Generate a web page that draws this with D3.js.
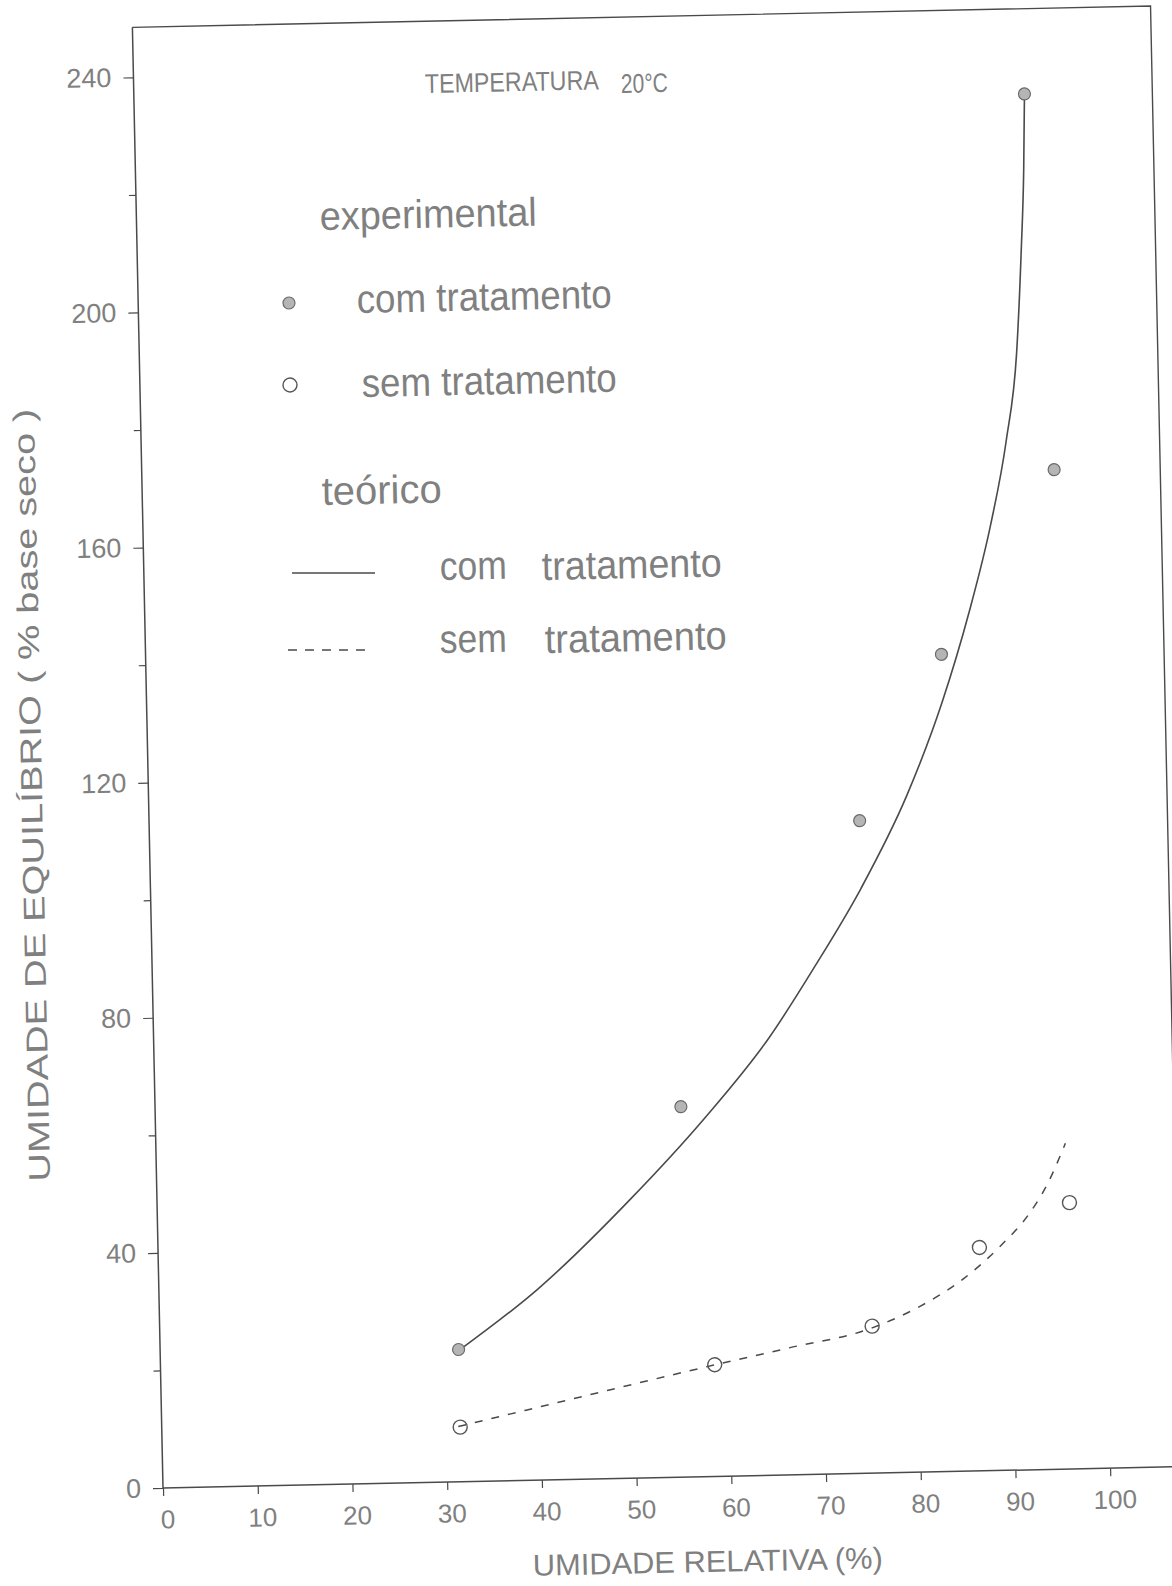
<!DOCTYPE html>
<html>
<head>
<meta charset="utf-8">
<script src="https://cdn.jsdelivr.net/npm/d3@7"></script>
<style>
  html, body { margin: 0; padding: 0; background: #fff; }
  svg { display: block; }
  text { font-family: "Liberation Sans", Arial, sans-serif; fill: #808080; }
</style>
</head>
<body>
<svg id="chart" width="1172" height="1586"></svg>
<script>
// ---------------- data ----------------
const xTicks = [0, 10, 20, 30, 40, 50, 60, 70, 80, 90, 100];
const yTicks = [0, 40, 80, 120, 160, 200, 240];
const yMinorTicks = [20, 60, 100, 140, 180, 220];

// experimental points (umidade relativa %, umidade de equilíbrio % base seca)
const comRH  = [31.5, 55.5, 75.0, 84.0, 96.3, 94.0];
const comEq  = [22.5, 63.0, 111.0, 139.0, 170.0, 234.0];
const semRH  = [31.5, 58.5, 75.2, 86.7, 96.3];
const semEq  = [9.3, 19.0, 25.0, 38.0, 45.3];

// theoretical curves
const teoComRH = [31.5, 40, 50, 58, 65, 70, 75, 80, 84, 87, 89.5, 91.3, 92.6, 93.3, 93.75, 94.0];
const teoComEq = [22.3, 32.5, 47.5, 61, 74.5, 86.5, 99.5, 115, 131, 146, 161, 175, 190, 207, 221, 234];
const teoSemRH = [31.3, 39.5, 47.1, 58.3, 66.4, 75.2, 80.3, 85.0, 89.0, 92.0, 94.0, 96.0];
const teoSemEq = [9.4, 12.3, 15.0, 18.9, 21.6, 24.7, 28.2, 32.8, 38.3, 43.5, 48.5, 55.4];

const xTitle = "UMIDADE RELATIVA (%)";
const yTitle = "UMIDADE DE EQUILÍBRIO ( % base seco )";

// ---------------- layout ----------------
const svg = d3.select("#chart");
const ox = 163, oy = 1488;          // axis origin on the page
const ang = -1.2;                   // the scanned sheet is slightly tilted
const rad = -ang * Math.PI / 180;
function loc(sx, sy) {
  const dx = sx - ox, dy = sy - oy;
  const lx = dx * Math.cos(rad) - dy * Math.sin(rad);
  const lu = -dx * Math.sin(rad) - dy * Math.cos(rad);
  return [ox + lx, oy - lu];
}

const x = d3.scaleLinear().domain([0, 100]).range([ox, 1110.3]);
const y = d3.scaleLinear().domain([0, 240]).range([oy, 77]);

const g = svg.append("g").attr("transform", `rotate(${ang},${ox},${oy})`);

const ink = "#4a4a4a";
const xMax = 107.5, yMax = 248.5;

// frame (top and right edges)
g.append("path")
  .attr("d", `M${x(0)},${y(yMax)} L${x(xMax)},${y(yMax)} L${x(xMax)},${y(0)}`)
  .attr("fill", "none").attr("stroke", ink).attr("stroke-width", 1.4);

// x axis
const xAxis = d3.axisBottom(x).tickValues(xTicks).tickSize(8).tickPadding(14)
  .tickFormat(d3.format("d"));
const gx = g.append("g").attr("transform", `translate(0,${oy})`).call(xAxis);
gx.select(".domain").attr("d", `M${x(0)},0H${x(xMax)}`)
  .attr("stroke", ink).attr("stroke-width", 1.5);
gx.selectAll(".tick line").attr("stroke", ink).attr("stroke-width", 1.2);
gx.selectAll(".tick text").attr("font-size", 26).attr("fill", "#808080")
  .attr("font-family", "Liberation Sans, Arial, sans-serif").attr("dx", 4);

// y axis
const yAxis = d3.axisLeft(y).tickValues(yTicks).tickSize(10).tickPadding(12)
  .tickFormat(d3.format("d"));
const gy = g.append("g").attr("transform", `translate(${ox},0)`).call(yAxis);
gy.select(".domain").attr("d", `M0,${y(0)}V${y(yMax)}`)
  .attr("stroke", ink).attr("stroke-width", 1.5);
gy.selectAll(".tick line").attr("stroke", ink).attr("stroke-width", 1.2);
gy.selectAll(".tick text").attr("font-size", 27).attr("fill", "#808080")
  .attr("font-family", "Liberation Sans, Arial, sans-serif");
const yMinor = d3.axisLeft(y).tickValues(yMinorTicks).tickSize(7).tickFormat("");
const gym = g.append("g").attr("transform", `translate(${ox},0)`).call(yMinor);
gym.select(".domain").remove();
gym.selectAll(".tick line").attr("stroke", ink).attr("stroke-width", 1.2);

// theoretical curves
const line = d3.line().x(d => x(d[0])).y(d => y(d[1])).curve(d3.curveMonotoneX);
g.append("path").datum(teoComRH.map((v, i) => [v, teoComEq[i]]))
  .attr("d", line).attr("fill", "none").attr("stroke", ink).attr("stroke-width", 1.6);
g.append("path").datum(teoSemRH.map((v, i) => [v, teoSemEq[i]]))
  .attr("d", line).attr("fill", "none").attr("stroke", ink).attr("stroke-width", 1.5)
  .attr("stroke-dasharray", "8,9");

// experimental points
g.selectAll("circle.com").data(comRH.map((v, i) => [v, comEq[i]])).enter()
  .append("circle").attr("class", "com")
  .attr("cx", d => x(d[0])).attr("cy", d => y(d[1])).attr("r", 6)
  .attr("fill", "#b5b5b5").attr("stroke", "#6a6a6a").attr("stroke-width", 1.2);
g.selectAll("circle.sem").data(semRH.map((v, i) => [v, semEq[i]])).enter()
  .append("circle").attr("class", "sem")
  .attr("cx", d => x(d[0])).attr("cy", d => y(d[1])).attr("r", 7)
  .attr("fill", "none").attr("stroke", "#555").attr("stroke-width", 1.4);

// ---------------- texts ----------------
function txt(sx, sy, s, size, len, anchor) {
  const p = loc(sx, sy);
  const t = g.append("text").attr("x", p[0]).attr("y", p[1]).text(s)
    .attr("font-size", size).attr("text-anchor", anchor || "start");
  if (len) t.attr("textLength", len).attr("lengthAdjust", "spacingAndGlyphs");
  return t;
}

// title
txt(425, 93, "TEMPERATURA", 27, 174);
txt(621, 93, "20°C", 27, 47);

// legend
txt(320, 230, "experimental", 40, 217);
{
  const p = loc(289, 303);
  g.append("circle").attr("cx", p[0]).attr("cy", p[1]).attr("r", 6)
    .attr("fill", "#b5b5b5").attr("stroke", "#6a6a6a").attr("stroke-width", 1.2);
}
txt(357, 313, "com tratamento", 40, 255);
{
  const p = loc(290, 385);
  g.append("circle").attr("cx", p[0]).attr("cy", p[1]).attr("r", 7)
    .attr("fill", "none").attr("stroke", "#555").attr("stroke-width", 1.4);
}
txt(362, 397, "sem tratamento", 40, 255);
txt(322, 505, "teórico", 40, 120);
{
  const a = loc(292, 573), b = loc(375, 573);
  g.append("line").attr("x1", a[0]).attr("y1", a[1]).attr("x2", b[0]).attr("y2", b[1])
    .attr("stroke", ink).attr("stroke-width", 1.6);
  const c = loc(288, 650), d = loc(370, 650);
  g.append("line").attr("x1", c[0]).attr("y1", c[1]).attr("x2", d[0]).attr("y2", d[1])
    .attr("stroke", ink).attr("stroke-width", 1.5).attr("stroke-dasharray", "9,8");
}
txt(440, 580, "com", 40, 67);
txt(542, 580, "tratamento", 40, 180);
txt(440, 653, "sem", 40, 67);
txt(545, 653, "tratamento", 40, 182);

// axis titles
txt(708, 1572, xTitle, 30, 350, "middle");
{
  const p = loc(42, 795);
  g.append("text").attr("transform", `translate(${p[0]},${p[1]}) rotate(-90)`)
    .attr("text-anchor", "middle").attr("font-size", 30)
    .attr("textLength", 773).attr("lengthAdjust", "spacingAndGlyphs")
    .text(yTitle);
}
</script>
</body>
</html>
